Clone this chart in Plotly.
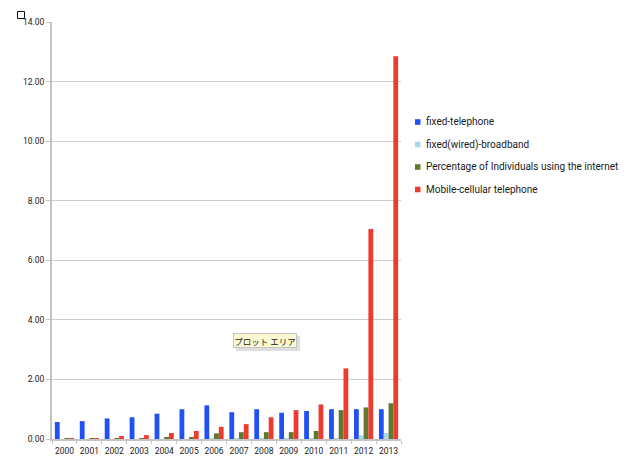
import plotly.graph_objects as go

years = ["2000", "2001", "2002", "2003", "2004", "2005", "2006",
         "2007", "2008", "2009", "2010", "2011", "2012", "2013"]

fixed_telephone = [0.57, 0.60, 0.69, 0.73, 0.85, 1.00, 1.13,
                   0.90, 1.00, 0.88, 0.94, 1.00, 1.00, 1.00]
fixed_broadband = [0.00, 0.00, 0.00, 0.00, 0.00, 0.00, 0.01,
                   0.01, 0.01, 0.01, 0.01, 0.03, 0.12, 0.20]
internet_users = [0.01, 0.02, 0.03, 0.03, 0.04, 0.07, 0.19,
                  0.23, 0.23, 0.23, 0.27, 0.97, 1.06, 1.20]
mobile_cellular = [0.02, 0.02, 0.10, 0.13, 0.20, 0.27, 0.41,
                   0.50, 0.73, 0.97, 1.16, 2.37, 7.05, 12.85]

series_names = ["fixed-telephone", "fixed(wired)-broadband",
                "Percentage of Individuals using the internet",
                "Mobile-cellular telephone"]
series_values = [fixed_telephone, fixed_broadband, internet_users, mobile_cellular]
series_colors = ["#2150f5", "#a8dbe9", "#5f7a30", "#ee3b30"]

# page geometry (pixels)
FIG_W, FIG_H = 626, 462
ML, MR, MT, MB = 52, 225, 22, 23
PW, PH = FIG_W - ML - MR, FIG_H - MT - MB


def px(xp):
    return (xp - ML) / PW


def py(yp):
    return (FIG_H - MB - yp) / PH


fig = go.Figure()
for name, vals, color in zip(series_names, series_values, series_colors):
    fig.add_trace(go.Bar(x=years, y=vals, name=name, marker_color=color,
                         marker_line_width=0))

fig.update_layout(
    width=FIG_W, height=FIG_H,
    margin=dict(l=ML, r=MR, t=MT, b=MB, autoexpand=False),
    paper_bgcolor="white", plot_bgcolor="white",
    barmode="group", bargap=0.23, bargroupgap=0,
    font=dict(family="Roboto, sans-serif", color="#222222"),
    showlegend=False,
)

fig.update_xaxes(
    type="category", tickson="boundaries", tickangle=0,
    showline=True, linecolor="#c4c4c4", linewidth=2,
    ticks="outside", ticklen=3, tickcolor="#c4c4c4",
    ticklabelstandoff=3,
    tickfont=dict(family="Roboto", size=8.5, color="#1a1a1a"),
    showgrid=False,
)
fig.update_yaxes(
    range=[0, 14], dtick=2, tickformat=".2f",
    showline=True, linecolor="#c4c4c4", linewidth=2,
    ticks="outside", ticklen=4, tickcolor="#c4c4c4",
    tickfont=dict(family="Roboto", size=8.5, color="#1a1a1a"),
    showgrid=True, gridcolor="#cccccc", gridwidth=1,
    zeroline=False,
)

# legend: small coloured squares with labels
legend_rows = [122, 144.5, 167, 189.5]
for name, color, yc in zip(series_names, series_colors, legend_rows):
    fig.add_shape(type="rect", xref="paper", yref="paper",
                  x0=px(415), x1=px(420.5), y0=py(yc + 2.8), y1=py(yc - 2.8),
                  line=dict(width=0), fillcolor=color)
    fig.add_annotation(xref="paper", yref="paper", x=px(423.5), y=py(yc),
                       xanchor="left", yanchor="middle", showarrow=False,
                       text=name, font=dict(family="Roboto", size=10, color="#1a1a1a"))

# small outlined square in the top-left corner
fig.add_shape(type="rect", xref="paper", yref="paper",
              x0=px(17.5), x1=px(24.5), y0=py(18.5), y1=py(11.5),
              line=dict(color="#111111", width=1), fillcolor="white")

# hover label for the plot area, with a soft drop shadow
fig.add_shape(type="rect", xref="paper", yref="paper",
              x0=px(236), x1=px(300), y0=py(351), y1=py(336),
              line=dict(width=0), fillcolor="rgba(0,0,0,0.13)", layer="above")
fig.add_annotation(
    xref="paper", yref="paper", x=px(265), y=py(340.5),
    xanchor="center", yanchor="middle",
    text="プロット エリア", showarrow=False, width=60, height=11,
    font=dict(family="Noto Sans CJK JP", size=8.5, color="#222222"),
    bgcolor="#fbf9d2", bordercolor="#c4c4c4", borderwidth=1, borderpad=1,
)

fig.write_html("out.html")
